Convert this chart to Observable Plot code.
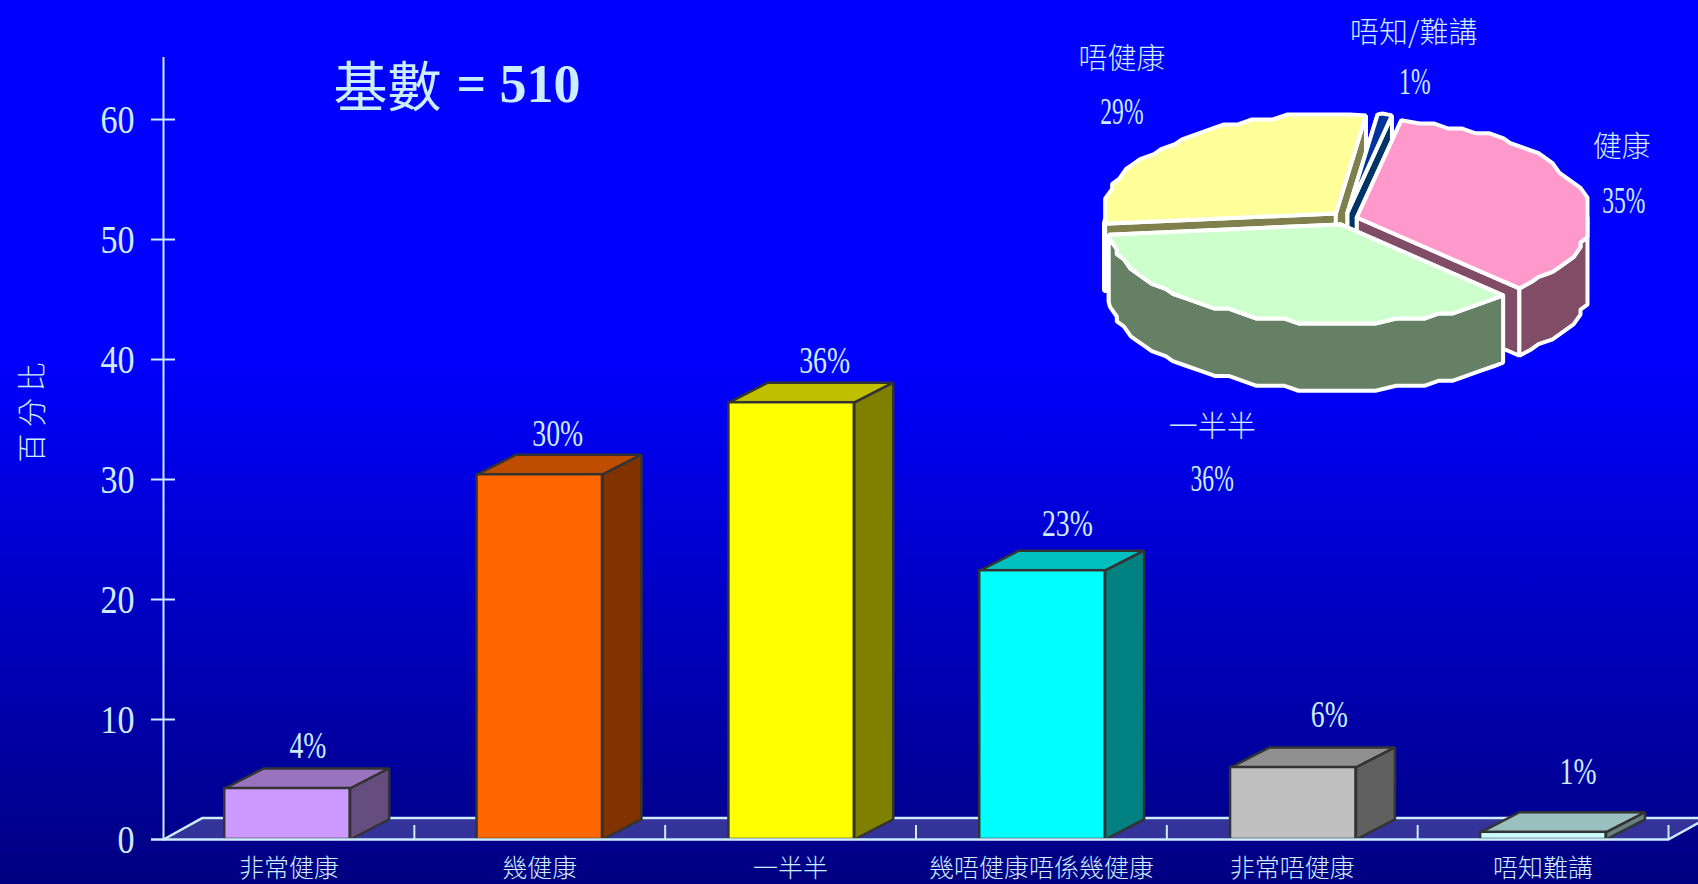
<!DOCTYPE html>
<html><head><meta charset="utf-8">
<script src="https://cdn.jsdelivr.net/npm/d3@7"></script>
<script src="https://cdn.jsdelivr.net/npm/@observablehq/plot@0.6"></script>
<style>
html,body{margin:0;padding:0;width:1698px;height:884px;overflow:hidden}
body{background:linear-gradient(#0000ff 0%,#0000ff 40%,#000080 100%);position:relative}
#bars,#pie{position:absolute;left:0;top:0}
svg{display:block}
</style></head><body><div id="bars"></div><div id="pie"></div>
<script>
// --- data ---
const categories = ["非常健康","幾健康","一半半","幾唔健康唔係幾健康","非常唔健康","唔知難講"];
const barValues = [4.25,30.4,36.4,22.4,6,0.6];
const barLabels = ["4%","30%","36%","23%","6%","1%"];
const yTicks = [0,10,20,30,40,50,60];
const pieNames = ["健康","一半半","唔健康","唔知/難講"];
const pieValues = [35,36,29,1];
const pieLabels = ["35%","36%","29%","1%"];
const yTitle = "百 分 比";
// --- styles ---
const INK = "#CCECFF";
const SERIF = '"Liberation Serif","Noto Sans CJK TC",serif';
const CJK = '"Noto Sans CJK TC",sans-serif';
const barFront = ["#CC99FF","#FF6600","#FFFF00","#00FFFF","#C0C0C0","#CCFFFF"];
const barTop = ["#9A73BF","#BF4D00","#BFBF00","#00BFBF","#909090","#99BFBF"];
const barSide = ["#664D80","#803300","#808000","#008080","#606060","#668080"];
const pieTop = ["#FF99CC","#CCFFCC","#FFFF99","#003399"];
const pieSide = ["#804C66","#668066","#80804C","#003366"];
const barShift = [-.006,0,.004,.004,.004,.001];
const labelNudge = [[19,-42],[18,-41],[34,-42],[26,-47],[37,-52],[35,-60]];
const pieExplode = [[.07,.01],[0,-.06],[-.02,.05],[.03,.06]];
const pieNameNudge = [[58,-42],[-49,116],[-56,-88],[36,-87]];
const pieValueNudge = [[60,11],[-49,167],[-56,-36],[37,-39]];

// --- bar chart ---
const dX = 0.1555, dY = 1.67, floorDY = 1.8, barW = 0.25;
const rows = categories.map((c,i)=>({i,c,v:barValues[i],label:barLabels[i],x1:i+barW+barShift[i],x2:i+1-barW+barShift[i],xm:i+.5}));
const faces = [];
rows.forEach(r=>{
  [[r.x1,r.v],[r.x1+dX,r.v+dY],[r.x2+dX,r.v+dY],[r.x2,r.v],[r.x1,r.v]].forEach(p=>faces.push({id:"t"+r.i,x:p[0],y:p[1],fill:barTop[r.i]}));
  [[r.x2,r.v],[r.x2+dX,r.v+dY],[r.x2+dX,dY],[r.x2,0],[r.x2,r.v]].forEach(p=>faces.push({id:"s"+r.i,x:p[0],y:p[1],fill:barSide[r.i]}));
});
const floor = [[0,0],[dX,floorDY],[6+dX,floorDY],[6,0]].map(p=>({x:p[0],y:p[1]}));
const faceStyle = {stroke:"#333333",strokeWidth:2.5,strokeLinejoin:"miter"};
const tickHalf = 0.048;
const barPlot = Plot.plot({
  width:1698,height:884,marginLeft:163,marginRight:30,marginTop:57,marginBottom:45,
  style:{background:"transparent",overflow:"hidden"},
  x:{type:"linear",domain:[0,6],axis:null},
  y:{type:"linear",domain:[0,65.17],axis:null},
  marks:[
    Plot.line(floor.concat(floor[0]),{x:"x",y:"y",fill:"#333399",stroke:"none"}),
    Plot.line(floor,{x:"x",y:"y",stroke:INK,strokeWidth:2.5}),
    Plot.ruleX([1,2,3,4,5,6],{y1:0,y2:1.17,stroke:INK,strokeWidth:2}),
    Plot.line(faces,{x:"x",y:"y",z:"id",fill:{value:"fill",scale:null},...faceStyle}),
    Plot.rect(rows,{x1:"x1",x2:"x2",y1:0,y2:"v",fill:{value:d=>barFront[d.i],scale:null},...faceStyle}),
    Plot.ruleX([0],{y1:0,y2:65.17,stroke:INK,strokeWidth:2}),
    Plot.ruleY(yTicks,{x1:-tickHalf,x2:d=>d===0?6:tickHalf,stroke:INK,strokeWidth:d=>d===0?2.5:2}),
    Plot.axisY(yTicks,{anchor:"left",tickSize:0,tickPadding:29,label:null,fontSize:41,fontFamily:SERIF,fill:INK}),
    Plot.axisX(rows.map(r=>r.xm),{anchor:"bottom",tickSize:0,tickPadding:20,label:null,fontSize:25,fontFamily:CJK,fontWeight:300,fill:INK,tickFormat:d=>categories[d-.5]}),
    ...rows.map((r,i)=>Plot.text([r],{x:"xm",y:"v",text:"label",dx:labelNudge[i][0],dy:labelNudge[i][1],fontSize:37,fontFamily:SERIF,fill:INK,className:"narrow"})),
    Plot.text([yTitle],{frameAnchor:"left",dx:-130,dy:-36,rotate:-90,textAnchor:"middle",fontSize:29,fontFamily:CJK,fontWeight:300,fill:INK}),
    Plot.text(["基數"],{frameAnchor:"top-left",dx:170,dy:11,textAnchor:"start",fontSize:54,fontFamily:CJK,fontWeight:400,fill:INK}),
    Plot.text(["="],{frameAnchor:"top-left",dx:293,dy:7,textAnchor:"start",fontSize:52,fontFamily:SERIF,fontWeight:"bold",fill:INK}),
    Plot.text(["510"],{frameAnchor:"top-left",dx:336,dy:6,textAnchor:"start",fontSize:54,fontFamily:SERIF,fontWeight:"bold",fill:INK})
  ]
});
document.getElementById("bars").append(barPlot);

// --- 3-D pie ---
const total = d3.sum(pieValues);
const startDeg = 79, thick = 0.68, rad = Math.PI/180;
let cursor = startDeg;
const slices = pieValues.map((v,i)=>{const a0=cursor;const a1=cursor-v/total*360;cursor=a1;return {i,a0,a1,mid:(a0+a1)/2,ax:pieExplode[i][0],ay:pieExplode[i][1]};});
const stepX = 0.03, stepY = 0.05;
const snap = (p)=>[Math.round(p[0]/stepX)*stepX,Math.round(p[1]/stepY)*stepY];
function arc(s){
  const n = Math.max(2,Math.ceil(Math.abs(s.a1-s.a0)/4));
  return d3.range(n+1).map(k=>{const t=(s.a0+(s.a1-s.a0)*k/n)*rad;return [Math.cos(t),Math.sin(t)];})
    .map((p,k,a)=>{const q=(k===0||k===a.length-1)?p:snap(p);return {p:[s.ax+q[0],s.ay+q[1]],front:q[1]<=0.02};});
}
const poly = [];
function add(id,pts,fill){pts.concat([pts[0]]).forEach(p=>poly.push({id,x:p[0],y:p[1],fill}));}
[2,3,0,1].forEach(i=>{
  const s=slices[i],full=arc(s),a=full.map(d=>d.p),ap=[s.ax,s.ay],down=p=>[p[0],p[1]-thick],first=a[0],last=a[a.length-1];
  const front=full.filter(d=>d.front).map(d=>d.p);
  add(i+"r0",[ap,first,down(first),down(ap)],pieSide[i]);
  add(i+"r1",[ap,last,down(last),down(ap)],pieSide[i]);
  if(front.length>1) add(i+"w",front.concat(front.slice().reverse().map(down)),pieSide[i]);
  add(i+"t",[ap].concat(a),pieTop[i]);
});
const cx=1340, cy=218, rx=233, ry=99;
const pieAnchor = s=>({x:Math.cos(s.mid*rad),y:Math.sin(s.mid*rad)});
const piePlot = Plot.plot({
  width:1698,height:884,margin:0,
  style:{background:"transparent",overflow:"hidden"},
  x:{type:"linear",domain:[-1,1],range:[cx-rx,cx+rx],axis:null},
  y:{type:"linear",domain:[-1,1],range:[cy+ry,cy-ry],axis:null},
  marks:[
    Plot.line(poly,{x:"x",y:"y",z:"id",fill:{value:"fill",scale:null},stroke:"#ffffff",strokeWidth:4,strokeLinejoin:"miter"}),
    ...slices.flatMap((s,i)=>[
      Plot.text([pieAnchor(s)],{x:"x",y:"y",text:()=>pieNames[i],dx:pieNameNudge[i][0],dy:pieNameNudge[i][1],fontSize:29,fontFamily:CJK,fontWeight:300,fill:INK}),
      Plot.text([pieAnchor(s)],{x:"x",y:"y",text:()=>pieLabels[i],dx:pieValueNudge[i][0],dy:pieValueNudge[i][1],fontSize:38,fontFamily:SERIF,fill:INK,className:"slim"})
    ])
  ]
});
document.getElementById("pie").append(piePlot);

// condense the Latin digits, as in the original narrow face
function condense(sel,ratio,root){
  root.querySelectorAll(sel).forEach(t=>{const w=t.getComputedTextLength();t.setAttribute("textLength",w*ratio);t.setAttribute("lengthAdjust","spacingAndGlyphs");});
}
condense('g[aria-label="y-axis tick label"] text',0.83,barPlot);
condense('g.narrow text',0.75,barPlot);
condense('g.slim text',0.62,piePlot);
</script></body></html>
